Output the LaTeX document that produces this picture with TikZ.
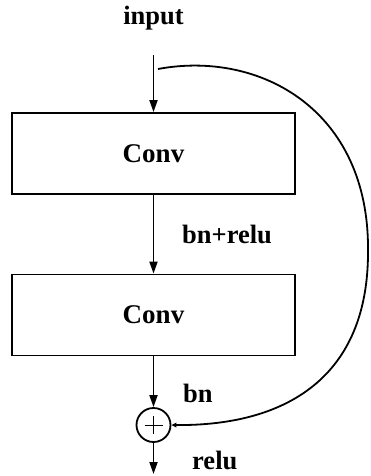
\documentclass[tikz,border=0pt]{standalone}
\usepackage{fontspec}
\setmainfont{Liberation Serif}
\usetikzlibrary{arrows.meta}
\tikzset{
  blk/.style={draw, line width=1.8pt, minimum width=283pt, minimum height=81pt, inner sep=0pt, font=\fontsize{27}{30}\selectfont\bfseries},
  lbl/.style={inner sep=0pt, font=\fontsize{26.5}{30}\selectfont\bfseries},
  arr/.style={line width=1.8pt, -{Triangle[length=12pt,width=8pt]}},
  skip/.style={line width=1.8pt, -{Triangle[length=5pt,width=4.5pt]}},
  addnode/.style={circle, draw, line width=1.8pt, minimum size=34pt, inner sep=0pt}
}
\begin{document}
\begin{tikzpicture}[x=1pt,y=-1pt]
\useasboundingbox (0,0) rectangle (371,476);
\node[lbl, anchor=base] (in) at (153.5,25) {input};
\coordinate (start) at (153.5,55);
\coordinate (skipstart) at (158,69);
\node[blk] (c1) at (153.5,153.5) {Conv};
\node[blk] (c2) at (153.5,315) {Conv};
\node[addnode] (add) at (153.5,425) {};
\coordinate (out) at (153.5,474);
\draw[line width=0.9pt] ([xshift=-9pt]add.center) -- ([xshift=9pt]add.center);
\draw[line width=0.9pt] ([yshift=-9pt]add.center) -- ([yshift=9pt]add.center);
\node[lbl, anchor=base west] (l1) at (182,243) {bn+relu};
\node[lbl, anchor=base west] (l2) at (183,402) {bn};
\node[lbl, anchor=base west] (l3) at (192,469) {relu};
\draw[arr] (start) -- (c1.north);
\draw[arr] (c1.south) -- (c2.north);
\draw[arr] (c2.south) -- (add.north);
\draw[arr] (add.south) -- (out);
\coordinate (far) at (368,250);
\draw[skip] (skipstart) .. controls (260,50) and (369,110) .. (far)
  .. controls (369,378) and (285,426) .. (add.east);
\end{tikzpicture}
\end{document}
